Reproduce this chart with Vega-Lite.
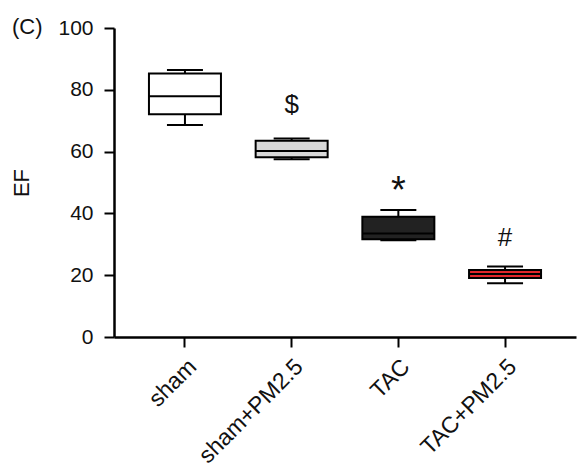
{
  "$schema": "https://vega.github.io/schema/vega-lite/v6.json",
  "autosize": "none",
  "width": 462,
  "height": 309,
  "padding": {"left": 114, "top": 28, "right": 1, "bottom": 127},
  "background": "white",
  "config": {
    "view": {"stroke": null},
    "font": "Liberation Sans",
    "axis": {"grid": false, "domainColor": "black", "domainWidth": 2.5, "tickColor": "black", "tickWidth": 2, "tickSize": 10, "labelColor": "#111", "titleColor": "#111", "labelFont": "Liberation Sans", "titleFont": "Liberation Sans", "titleFontWeight": "normal"}
  },
  "title": {"text": "(C)", "anchor": "start", "frame": "group", "orient": "top", "dx": -102, "offset": -32, "baseline": "middle", "fontSize": 22, "fontWeight": "normal", "color": "#111", "font": "Liberation Sans"},
  "data": {
    "values": [
      {"group": "sham", "lower": 68.6, "q1": 72.1, "median": 77.9, "q3": 85.3, "upper": 86.4, "label": "", "label_y": 95},
      {"group": "sham+PM2.5", "lower": 57.5, "q1": 58.2, "median": 60.2, "q3": 63.5, "upper": 64.2, "label": "$", "label_y": 75},
      {"group": "TAC", "lower": 31.3, "q1": 31.6, "median": 33.5, "q3": 38.9, "upper": 41.1, "label": "*", "label_y": 47},
      {"group": "TAC+PM2.5", "lower": 17.4, "q1": 19.1, "median": 20.4, "q3": 21.7, "upper": 22.8, "label": "#", "label_y": 32}
    ]
  },
  "encoding": {
    "x": {"field": "group", "type": "nominal", "sort": null,
      "scale": {"paddingInner": 0.3, "paddingOuter": 0.315},
      "axis": {"title": null, "labelAngle": -45, "labelFontSize": 23, "labelPadding": 8}}
  },
  "layer": [
    {
      "mark": {"type": "rule", "stroke": "black", "strokeWidth": 2},
      "encoding": {
        "y": {"field": "lower", "type": "quantitative", "scale": {"domain": [0, 100], "nice": false},
          "axis": {"title": "EF", "values": [0, 20, 40, 60, 80, 100], "labelFontSize": 21, "titleFontSize": 22, "labelPadding": 11, "titlePadding": 24}},
        "y2": {"field": "upper"}
      }
    },
    {
      "mark": {"type": "tick", "color": "black", "opacity": 1, "size": 36, "thickness": 2},
      "encoding": {"y": {"field": "lower", "type": "quantitative"}}
    },
    {
      "mark": {"type": "tick", "color": "black", "opacity": 1, "size": 36, "thickness": 2},
      "encoding": {"y": {"field": "upper", "type": "quantitative"}}
    },
    {
      "mark": {"type": "bar", "size": 72, "stroke": "black", "strokeWidth": 2},
      "encoding": {
        "y": {"field": "q1", "type": "quantitative"},
        "y2": {"field": "q3"},
        "fill": {"field": "group", "type": "nominal", "legend": null,
          "scale": {"domain": ["sham", "sham+PM2.5", "TAC", "TAC+PM2.5"], "range": ["#ffffff", "#d9d9d9", "#222222", "#e0262b"]}}
      }
    },
    {
      "mark": {"type": "tick", "color": "black", "opacity": 1, "size": 72, "thickness": 2},
      "encoding": {"y": {"field": "median", "type": "quantitative"}}
    },
    {
      "transform": [{"filter": "datum.label != '*'"}],
      "mark": {"type": "text", "fontSize": 26, "color": "#111", "baseline": "middle", "font": "Liberation Sans"},
      "encoding": {
        "y": {"field": "label_y", "type": "quantitative"},
        "text": {"field": "label"}
      }
    },
    {
      "transform": [{"filter": "datum.label == '*'"}],
      "mark": {"type": "text", "fontSize": 38, "color": "#111", "baseline": "middle", "font": "Liberation Sans"},
      "encoding": {
        "y": {"field": "label_y", "type": "quantitative"},
        "text": {"field": "label"}
      }
    }
  ]
}
